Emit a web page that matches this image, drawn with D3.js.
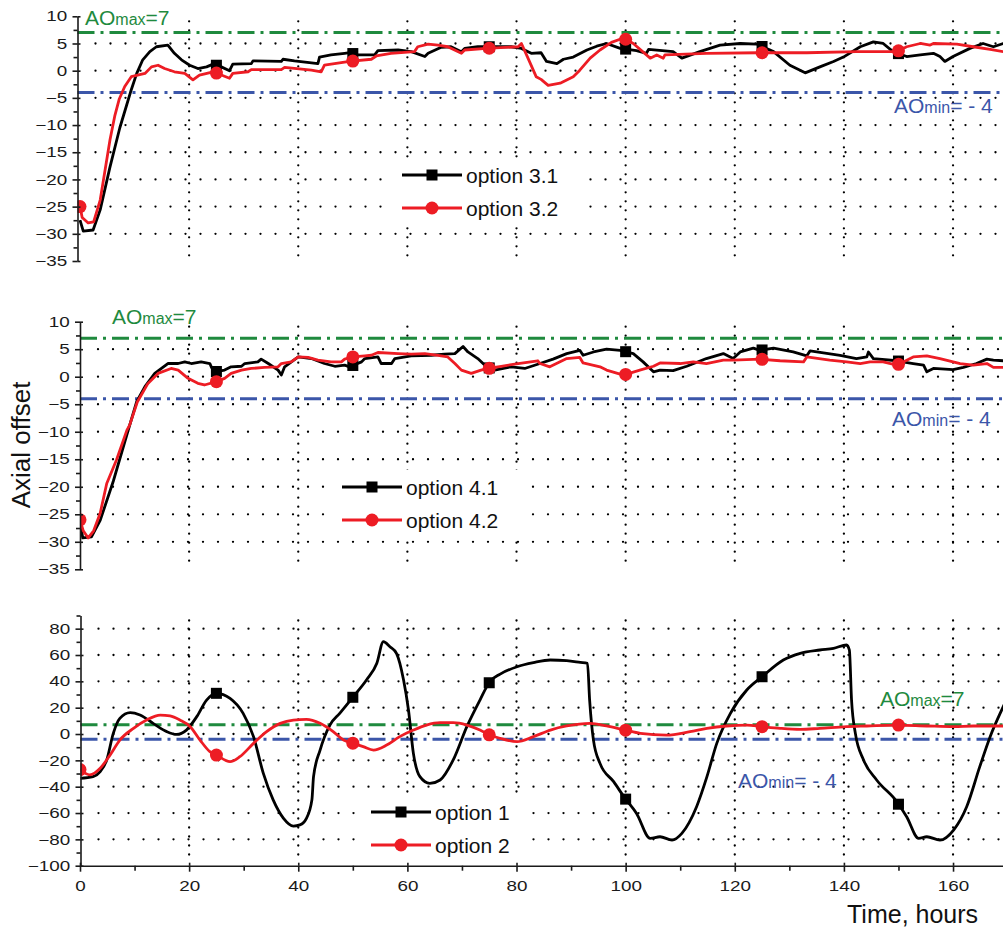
<!DOCTYPE html>
<html>
<head>
<meta charset="utf-8">
<script src="https://cdn.jsdelivr.net/npm/d3@7"></script>
<style>
body { margin: 0; background: #fff; }
svg { display: block; font-family: "Liberation Sans", Arial, sans-serif; }
</style>
</head>
<body>
<div id="chart"></div>
<script>
// axial offset vs time, three panels

var aoMax = 7;
var aoMin = -4;

var xTicks = [0, 20, 40, 60, 80, 100, 120, 140, 160];
var xMinorTicks = [10, 30, 50, 70, 90, 110, 130, 150, 170];
var gridHours = [20, 40, 60, 80, 100, 120, 140, 160];
var markerHours = [0, 25, 50, 75, 100, 125, 150];

var yTicksAO = [-35, -30, -25, -20, -15, -10, -5, 0, 5, 10];
var yMinorAO = [-32.5, -27.5, -22.5, -17.5, -12.5, -7.5, -2.5, 2.5, 7.5];
var gridAO = [-30, -25, -20, -15, -10, -5, 0, 5];

var yTicksWide = [-100, -80, -60, -40, -20, 0, 20, 40, 60, 80];
var yMinorWide = [-90, -70, -50, -30, -10, 10, 30, 50, 70, 90];
var gridWide = [-80, -60, -40, -20, 0, 20, 40, 60, 80];

var names3 = ["option 3.1", "option 3.2"];
var names4 = ["option 4.1", "option 4.2"];
var names12 = ["option 1", "option 2"];

// [hours, axial offset]
var series31 = [[0,-27.5],[0.6,-29.5],[2.4,-29.3],[3.7,-25.6],[5.5,-17.7],[7.3,-10.5],[8.5,-6.5],[9.4,-3.5],[10.4,-0.5],[11.5,2],[12.8,3.5],[14,4.4],[16.1,4.7],[17.3,3.2],[18.6,2],[20.1,1],[21.6,0.4],[23.2,0.7],[24.4,1.2],[25.9,0.7],[27.4,0],[28,1.2],[31.4,1.3],[31.7,1.8],[36.9,1.7],[37.2,2.1],[39.3,1.8],[43.6,1.3],[43.9,2.5],[46,2.9],[48.5,3.2],[49.4,3.3],[51,2.9],[54,2.9],[54.6,3.7],[58.3,3.8],[60.7,3.5],[63.2,2.6],[63.8,3.2],[66.2,4.3],[68,4.4],[69.9,3.5],[70.5,4.1],[72.9,4.4],[76,4.4],[79,4.4],[80.9,4.1],[82.7,3.2],[84.5,3.3],[85.5,1.7],[87.4,1.3],[88.6,2.1],[90.4,2.5],[92.9,3.8],[94.7,4.5],[96.5,5],[99,4.1],[102,3.7],[103.8,3.2],[104.2,3.9],[108.7,3.5],[110.3,2.3],[113.6,3.5],[117.3,4.7],[121,5],[124,4.9],[127.1,3.5],[130.1,1],[132.9,-0.4],[135.6,0.7],[138.1,1.7],[139.9,2.5],[143,4.4],[145.4,5.3],[147.2,5],[149,3.5],[151.5,2.6],[154,2.9],[156.4,3.2],[157.6,2.6],[158.5,1.7],[160,2.6],[163.1,4.1],[165.5,5],[167.4,4.4],[169.2,5],[172,4.8]];

var series32 = [[0,-25],[0.4,-27],[1.5,-28],[2.5,-27.8],[3.7,-23.8],[5.5,-12.7],[6.4,-8.2],[7.2,-5.2],[8.2,-2.9],[9.4,-1.1],[11.9,-0.5],[13.1,0.7],[14.3,1],[15.5,0.4],[17.3,-0.2],[19.2,-0.5],[20.7,-1.7],[21.9,-0.8],[24.4,-0.2],[25.9,-0.8],[27.4,-1.4],[28,-0.5],[30.8,-0.2],[31.4,0.2],[36.9,0.2],[37.5,0.6],[42.4,0.1],[44.2,-0.2],[44.8,1],[49.4,1.7],[53.4,2.1],[54.3,2.7],[57,3.2],[61.3,3.5],[61.9,4.4],[63.8,4.9],[65.6,4.7],[67.4,4.4],[69.9,3.2],[70.5,3.8],[74.5,4.1],[80.3,4.4],[80.9,5],[82.1,2.3],[83.6,-1.1],[84.5,-1.6],[85.8,-2.7],[88,-2.3],[90.4,-1.1],[91.6,0.1],[93.5,2.3],[95.3,3.8],[97.4,5.2],[99.6,6],[101.4,5],[104.5,2.3],[105.7,2.9],[106.9,2.3],[107.2,2.9],[114.8,3.2],[124.3,3.3],[133.2,3.3],[142.3,3.5],[149.7,3.5],[151.5,4.4],[154,5],[155.8,4.7],[156.4,5],[160.7,4.9],[163.7,4.4],[166.8,3.9],[169.2,3.5],[172,3.2]];

var series41 = [[0,-26],[0.5,-29.3],[2.1,-29.1],[3.7,-26.1],[6.1,-19],[8.6,-10.5],[10.4,-4.5],[11.9,-1.8],[13.7,0.6],[16.1,2.4],[18,2.4],[19.2,2.7],[20.4,2.4],[22.2,2.7],[23.8,2.4],[24.1,1.7],[24.7,0.9],[26.5,1.2],[27.7,1.8],[29.6,1.9],[30.2,2.4],[32.6,2.7],[33.2,3.2],[34.5,2.4],[36.3,1.2],[36.9,0.3],[37.5,1.8],[40,3.6],[42.4,3.3],[44.8,2.4],[46.7,1.9],[48.5,2.1],[49.4,1.8],[51.6,2.7],[52.2,3.3],[54.6,3.6],[55.2,2.4],[57.1,2.4],[57.7,3.3],[60.7,3.8],[64.4,3.9],[66.8,4.1],[68.7,4.2],[70.2,5.5],[71.1,4.5],[72.9,3.3],[74.5,1.8],[76,1.2],[79,1.8],[81.5,1.5],[84.3,2.4],[86.7,3.2],[89.2,4.2],[91.6,4.8],[92.2,3.9],[94.1,4.5],[96.5,5],[99,4.8],[101.4,4.2],[103.2,2.7],[105.1,0.9],[106.3,1.2],[108.7,1.1],[111.2,1.9],[114.8,3.3],[117.9,4.2],[119.7,3.3],[121,4.5],[123.4,5.2],[124.6,4.8],[127.1,5.2],[130.7,4.5],[133.2,3.8],[133.8,4.7],[139.3,3.9],[142.3,3.3],[144.2,3.6],[144.5,4.5],[145.4,3.3],[149.7,2.9],[152.7,2.4],[154.6,2.1],[155.2,0.9],[156.4,1.5],[160,1.3],[161.9,1.7],[164.3,2.4],[166.2,3.2],[167.4,3],[169.2,2.9],[172,2.7]];

var series42 = [[0,-26],[0.6,-28],[1.5,-29.3],[2.5,-28],[3.7,-24.8],[4.9,-19.4],[6.7,-15.1],[8.6,-9.7],[9.1,-8.8],[10.5,-4.6],[12.4,-1.3],[14.3,0.6],[16.7,1.5],[18,1.2],[19.8,-0.3],[21.6,-1.2],[22.8,-1.5],[25,-0.9],[26.5,-0.3],[27.7,0.6],[29.6,1.2],[31.4,1.5],[33.8,1.7],[36.3,1.8],[36.9,2.4],[38.7,2.7],[40,3.6],[41.8,3.5],[43.6,3],[46,2.7],[47.9,2.7],[48.5,3.2],[50,3.6],[52.2,3.8],[53.4,3.9],[54.6,4.4],[58.3,4.2],[60.7,4.1],[63.2,4.2],[65.6,3.9],[67.4,3.6],[68.7,2.4],[69.9,1.2],[71.7,0.6],[73.5,1.2],[74.8,1.5],[77.2,1.9],[80.3,2.4],[83.9,2.9],[84.3,2.4],[86.1,1.8],[89.2,3.3],[91.6,3.5],[92.2,2.5],[95.3,1.8],[96.5,1.2],[99.6,0.3],[102.6,1.2],[105.1,1.9],[106.3,2.5],[110,2.4],[112.4,2.7],[114.8,2.4],[117.9,3],[119.7,3],[124.6,3.2],[128.3,2.9],[132.6,2.7],[133.2,3.6],[137.4,3],[140.5,2.7],[143,2.4],[144.8,2.7],[147.2,2.7],[149.7,2.1],[152.7,3.6],[155.2,3.8],[157.6,3.3],[161.3,2.4],[163.7,2.1],[166.2,2.4],[167.4,1.7],[169.2,1.7],[172,1.7]];

var series1 = [[0,-33.7],[2.4,-32.4],[3.7,-28.6],[4.9,-19.7],[6.1,0.5],[7.3,11.9],[9.2,16.2],[11,14.4],[13.4,8.1],[15.9,1.8],[17.7,-0.3],[19.5,3],[21.4,13.2],[23.2,25.8],[25,30.9],[27.5,27.1],[29.9,15.7],[31.8,-2],[33.6,-29.9],[35.4,-50],[37.3,-64],[39.1,-69.9],[40.3,-69],[41.5,-64],[42.5,-50],[42.8,-32.4],[44,-12.2],[45.8,6.8],[47.6,15.7],[50.1,28.4],[52.5,41],[54.4,53.7],[55.6,70.1],[56.8,66.3],[58,61.3],[59.3,41],[60.2,18.2],[61.1,-14.7],[62.3,-32.4],[64.1,-37.5],[66,-34.9],[68.4,-19.7],[70.9,5.6],[73.3,25.8],[75.1,39.7],[77,45.5],[80.1,51.1],[83.1,54.2],[86.2,56.2],[89.2,55.7],[91.7,54.4],[93,53.7],[93.4,25.8],[94.1,-4.6],[95.3,-22.3],[97.8,-36.2],[99.9,-48.9],[102,-60.3],[104.5,-79.2],[106.3,-78],[108.5,-80.5],[110.3,-75.4],[113,-55.2],[114.9,-32.4],[116.7,-7.1],[119.2,15.7],[122.2,33.4],[125,43.5],[128.9,56.2],[132,61.3],[135.6,63.8],[138.1,65.1],[140.5,67.6],[141,63.8],[141.4,25.8],[142.1,0.5],[143.6,-19.7],[146,-34.9],[149.7,-51.4],[151.5,-62.8],[153.7,-79.2],[155.2,-78],[157.6,-80.5],[160.1,-72.9],[162.5,-55.2],[164.9,-24.8],[166.8,-2],[169.2,20.8],[172,45]];

var series2 = [[0,-27],[1.8,-31],[3.7,-26],[5.5,-16],[7.3,-4.6],[9.8,4.3],[12.2,10.6],[14.7,14.4],[16.5,13.7],[18.3,10.6],[20.2,5.6],[22,-4.6],[23.8,-13.4],[25,-16],[27.5,-21],[29.3,-17.2],[31.8,-7.1],[34.2,1.8],[36.7,8.1],[39.1,10.6],[41.5,11.1],[44,8.1],[46.4,1.8],[48.3,-4.6],[50.1,-7.1],[51.9,-9.6],[53.8,-12.2],[56.2,-8.4],[58.6,-2],[61.1,3],[63.5,6.8],[66,8.6],[68.4,8.6],[70.9,6.8],[73.3,3],[75.1,-0.8],[77,-3.3],[80.1,-5.8],[83.1,-2],[86.2,3],[89.2,6.1],[93.5,8.1],[96.5,6.1],[99.9,3],[102.7,0.5],[107.5,-0.8],[111.8,1.8],[114.9,4.3],[118.5,6.1],[122.2,6.8],[125,5.6],[128.3,4.3],[132,3.5],[135.6,4.3],[140.5,5.6],[144.2,6.1],[149.7,6.8],[155.2,6.1],[160.1,5.6],[163.7,6.1],[169.2,6.1],[172,6]];

var W = 1003, H = 933;
var green = "#1f8a3e", blue = "#3b56a9", red = "#ed1c24";

var panels = [
	{ top: 16.3, bottom: 261, domain: [-35, 10], ticks: yTicksAO, minor: yMinorAO, grid: gridAO,
	  a: series31, b: series32, names: names3, shift: -2.5, smooth: false,
	  legend: [402, 175, 208], box: [392, 160, 190, 62], maxAt: [85, 25], minAt: [894, 113] },
	{ top: 321.7, bottom: 569.3, domain: [-35, 10], ticks: yTicksAO, minor: yMinorAO, grid: gridAO,
	  a: series41, b: series42, names: names4, shift: 0, smooth: false,
	  legend: [342, 487, 520], box: [335, 470, 188, 66], maxAt: [112, 324], minAt: [892, 426] },
	{ top: 615.5, bottom: 865.7, domain: [-100, 90], ticks: yTicksWide, minor: yMinorWide, grid: gridWide,
	  a: series1, b: series2, names: names12, shift: 0.5, smooth: true, xAxis: true,
	  legend: [371, 812, 845], box: [360, 795, 162, 66], maxAt: [880, 706], minAt: [738, 788] }
];

var x = d3.scaleLinear().domain([0, 170]).range([80, 1007.6]);

var svg = d3.select("#chart").append("svg")
	.attr("width", W)
	.attr("height", H);

function valueAt(series, h) {
	var i = d3.bisector(d => d[0]).left(series, h);
	if (i <= 0) return series[0][1];
	if (i >= series.length) return series[series.length - 1][1];
	var a = series[i - 1], b = series[i];
	return a[1] + (b[1] - a[1]) * (h - a[0]) / (b[0] - a[0]);
}

function aoLabel(g, pos, color, sub, rest) {
	var t = g.append("text")
		.attr("x", pos[0])
		.attr("y", pos[1])
		.attr("fill", color)
		.attr("font-size", "21px");
	t.append("tspan").text("AO");
	t.append("tspan").attr("font-size", "16px").text(sub);
	t.append("tspan").text(rest);
}

function squares(g, pts, y) {
	g.selectAll(null).data(pts).enter().append("rect")
		.attr("x", d => x(d[0]) - 5.5)
		.attr("y", d => y(d[1]) - 5.5)
		.attr("width", 11)
		.attr("height", 11)
		.attr("fill", "#000");
}

function circles(g, pts, y) {
	g.selectAll(null).data(pts).enter().append("circle")
		.attr("cx", d => x(d[0]))
		.attr("cy", d => y(d[1]))
		.attr("r", 6.5)
		.attr("fill", red);
}

panels.forEach(function (p, i) {
	var y = d3.scaleLinear().domain(p.domain).range([p.bottom, p.top]);
	var x0 = x(0) + p.shift;
	var g = svg.append("g");

	svg.append("clipPath").attr("id", "clip" + i)
		.append("rect")
		.attr("x", x0)
		.attr("y", p.top - 15)
		.attr("width", W - x0)
		.attr("height", p.bottom - p.top + 30);

	// dotted grid
	g.selectAll(".hgrid").data(p.grid).enter().append("line")
		.attr("x1", x0 + 18).attr("x2", W)
		.attr("y1", d => y(d)).attr("y2", d => y(d))
		.attr("stroke", "#000")
		.attr("stroke-width", 2.3)
		.attr("stroke-linecap", "round")
		.attr("stroke-dasharray", "0,15");

	g.selectAll(".vgrid").data(gridHours).enter().append("line")
		.attr("x1", d => x(d)).attr("x2", d => x(d))
		.attr("y1", p.top + 5).attr("y2", p.bottom - 3)
		.attr("stroke", "#000")
		.attr("stroke-width", 2.3)
		.attr("stroke-linecap", "round")
		.attr("stroke-dasharray", "0,9");

	// limits
	[[aoMax, green], [aoMin, blue]].forEach(function (l) {
		g.append("line")
			.attr("x1", x0).attr("x2", W)
			.attr("y1", y(l[0])).attr("y2", y(l[0]))
			.attr("stroke", l[1])
			.attr("stroke-width", 3)
			.attr("stroke-dasharray", "17,6,3,6");
	});

	var line = d3.line()
		.x(d => x(d[0]))
		.y(d => y(d[1]))
		.curve(p.smooth ? d3.curveMonotoneX : d3.curveLinear);

	var plot = g.append("g").attr("clip-path", "url(#clip" + i + ")");

	plot.append("path").datum(p.a)
		.attr("d", line)
		.attr("fill", "none")
		.attr("stroke", "#000")
		.attr("stroke-width", 2.8)
		.attr("stroke-linejoin", "round");
	squares(plot, markerHours.slice(1).map(h => [h, valueAt(p.a, h)]), y);

	plot.append("path").datum(p.b)
		.attr("d", line)
		.attr("fill", "none")
		.attr("stroke", red)
		.attr("stroke-width", 2.8)
		.attr("stroke-linejoin", "round");
	circles(plot, markerHours.map(h => [h, valueAt(p.b, h)]), y);

	// y axis
	var ax = g.append("g").attr("transform", `translate(${x0},0)`);
	ax.call(d3.axisLeft(y).tickValues(p.ticks).tickSize(5).tickPadding(3).tickSizeOuter(0));
	ax.selectAll("text")
		.attr("transform", "scale(1.3,1)")
		.attr("font-size", "14.5px")
		.attr("font-family", "Liberation Sans, Arial, sans-serif")
		.attr("fill", "#1a1a1a");
	ax.append("g").call(d3.axisRight(y).tickValues(p.ticks).tickSize(3).tickFormat(""))
		.select(".domain").remove();
	ax.append("g").call(d3.axisLeft(y).tickValues(p.minor).tickSize(4).tickFormat(""))
		.select(".domain").remove();
	ax.selectAll("path, line").attr("stroke", "#1a1a1a").attr("stroke-width", 1.6);

	if (p.xAxis) {
		var bx = g.append("g").attr("transform", `translate(0,${p.bottom})`);
		bx.call(d3.axisBottom(x).tickValues(xTicks).tickSize(6).tickPadding(9).tickSizeOuter(0));
		bx.selectAll("text")
			.attr("transform", "scale(1.3,1)")
			.attr("font-size", "14.5px")
			.attr("font-family", "Liberation Sans, Arial, sans-serif")
			.attr("fill", "#1a1a1a");
		bx.append("g").call(d3.axisTop(x).tickValues(xTicks).tickSize(3).tickFormat(""))
			.select(".domain").remove();
		bx.append("g").call(d3.axisBottom(x).tickValues(xMinorTicks).tickSize(5).tickFormat(""))
			.select(".domain").remove();
		bx.selectAll("path, line").attr("stroke", "#1a1a1a").attr("stroke-width", 1.6);
	}

	aoLabel(g, p.maxAt, green, "max", "=7");
	aoLabel(g, p.minAt, blue, "min", "= - 4");

	// legend
	var lg = g.append("g");
	lg.append("rect")
		.attr("x", p.box[0]).attr("y", p.box[1])
		.attr("width", p.box[2]).attr("height", p.box[3])
		.attr("fill", "#fff");
	var lx = p.legend[0];
	[[p.legend[1], "#000", p.names[0]], [p.legend[2], red, p.names[1]]].forEach(function (e, k) {
		lg.append("line")
			.attr("x1", lx).attr("x2", lx + 60)
			.attr("y1", e[0]).attr("y2", e[0])
			.attr("stroke", e[1])
			.attr("stroke-width", 2.8);
		if (k === 0) {
			lg.append("rect")
				.attr("x", lx + 24.5).attr("y", e[0] - 5.5)
				.attr("width", 11).attr("height", 11)
				.attr("fill", "#000");
		} else {
			lg.append("circle")
				.attr("cx", lx + 30).attr("cy", e[0])
				.attr("r", 6.5)
				.attr("fill", red);
		}
		lg.append("text")
			.attr("x", lx + 64)
			.attr("y", e[0] + 7.5)
			.attr("font-size", "21px")
			.attr("fill", "#111")
			.text(e[2]);
	});
});

svg.append("text")
	.attr("transform", "translate(30,445) rotate(-90)")
	.attr("text-anchor", "middle")
	.attr("font-size", "26px")
	.attr("fill", "#111")
	.text("Axial offset");

svg.append("text")
	.attr("x", 847)
	.attr("y", 923)
	.attr("font-size", "25px")
	.attr("fill", "#111")
	.text("Time, hours");
</script>
</body>
</html>
